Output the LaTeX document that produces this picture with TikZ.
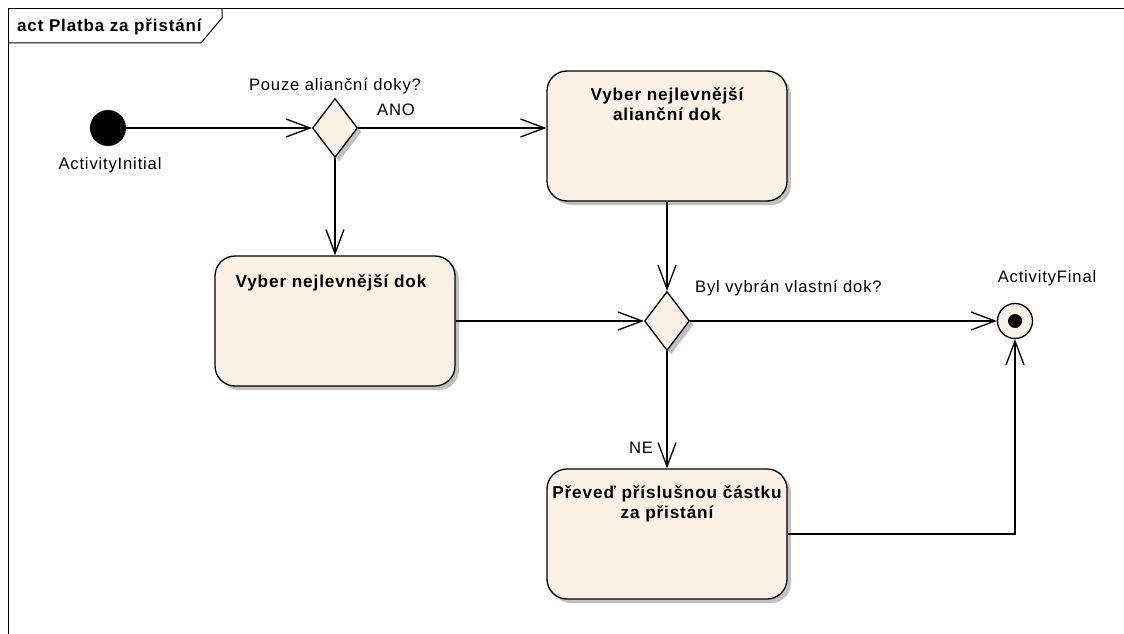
\documentclass[tikz,border=0pt]{standalone}
\usepackage{fontspec}
\setmainfont{Liberation Sans}[LetterSpace=5]
\usetikzlibrary{arrows.meta,positioning,shapes.geometric,shadows}
\definecolor{actfill}{RGB}{251,241,228}
\definecolor{actshadow}{RGB}{192,192,192}

\begin{document}
\begin{tikzpicture}[x=1pt,y=-1pt]
\tikzset{
  actshade/.style={drop shadow={shadow xshift=4pt,shadow yshift=-4pt,fill=actshadow,opacity=1}},
  actbox/.style={rectangle,rounded corners=20pt,draw,line width=1.3pt,fill=actfill,minimum width=240pt,minimum height=130pt,inner sep=0pt,actshade},
  decision/.style={diamond,draw,line width=1.3pt,fill=actfill,minimum width=45pt,minimum height=59pt,inner sep=0pt,actshade},
  startnode/.style={circle,fill=black,minimum size=36pt,inner sep=0pt},
  endnode/.style={circle,draw,line width=1.3pt,fill=actfill,minimum size=35pt,inner sep=0pt,
    path picture={\fill[black] (path picture bounding box.center) circle (7pt);}},
  flow/.style={-{Straight Barb[length=24pt,width=18pt]},line width=1.3pt},
  lbl/.style={font=\fontsize{16.6}{20}\selectfont,inner sep=0pt},
  boxtext/.style={font=\fontsize{17.2}{20}\selectfont\bfseries,align=center,anchor=north,inner sep=0pt,yshift=-17pt}
}
\useasboundingbox (0,0) rectangle (1124,634);
\draw[line width=1pt] (8,634) -- (8,9) -- (1124,9);
\draw[line width=1pt] (8,43) -- (201,43) -- (222,18) -- (222,9);
\node[lbl,font=\fontsize{17}{20}\selectfont\bfseries,anchor=west] (n_title) at (17,27) {act Platba za přistání};

\node[startnode] (n_init) at (108,128) {};
\node[decision] (n_dec1) at (335,128) {};
\node[actbox,label={[boxtext]north:{Vyber nejlevnější\\alianční dok}}] (n_act1) at (667,136) {};
\node[actbox,label={[boxtext,xshift=-4pt,yshift=-2pt]north:{Vyber nejlevnější dok}}] (n_act2) at (335,321) {};
\node[decision] (n_dec2) at (667,321) {};
\node[endnode] (n_final) at (1015,321) {};
\node[actbox,label={[boxtext]north:{Převeď příslušnou částku\\za přistání}}] (n_act3) at (667,534) {};

\node[lbl] (n_initlbl) at (110,165) {ActivityInitial};
\node[lbl] (n_finallbl) at (1047,278) {ActivityFinal};
\node[lbl] (n_dec1lbl) at (335,86) {Pouze alianční doky?};
\node[lbl] (n_ano) at (396,110) {ANO};
\node[lbl,anchor=west] (n_dec2lbl) at (695,288) {Byl vybrán vlastní dok?};
\node[lbl] (n_ne) at (641,448) {NE};

\draw[flow] (n_init) -- (n_dec1);
\draw[flow] (n_dec1) -- (n_dec1 -| n_act1.west);
\draw[flow] (n_dec1) -- (n_act2);
\draw[flow] (n_act1) -- (n_dec2);
\draw[flow] (n_act2) -- (n_dec2);
\draw[flow] (n_dec2) -- (n_final);
\draw[flow] (n_dec2) -- (n_act3);
\draw[flow] (n_act3.east) -| (n_final);
\end{tikzpicture}
\end{document}
